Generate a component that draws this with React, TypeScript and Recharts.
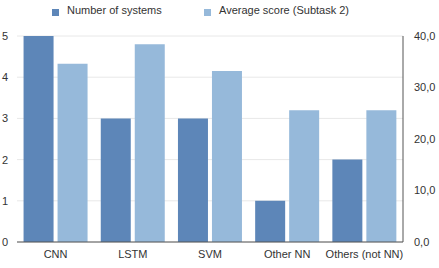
import React from 'react';
import { BarChart, Bar, XAxis, YAxis, CartesianGrid } from 'recharts';

const categories = ['CNN', 'LSTM', 'SVM', 'Other NN', 'Others (not NN)'];
const numberOfSystems = [5, 3, 3, 1, 2];
const averageScore = [34.6, 38.4, 33.2, 25.6, 25.6];
const leftTicks = [0, 1, 2, 3, 4, 5];
const rightTicks = [0, 10, 20, 30, 40];

const DARK = '#5d86b8';
const LIGHT = '#96b9da';
const FONT = '"Liberation Sans", Arial, sans-serif';

const data = categories.map((c, i) => ({
  name: c,
  systems: numberOfSystems[i],
  score: averageScore[i],
}));

export default function App() {
  return (
    <div style={{ position: 'absolute', left: 0, top: 0, width: 439, height: 268, fontFamily: FONT, background: '#fff' }}>
      <div style={{ position: 'absolute', top: 3, left: 0, width: 439, height: 18, fontSize: 11, color: '#333' }}>
        <span style={{ position: 'absolute', left: 52, top: 6, width: 7, height: 7, background: DARK }} />
        <span style={{ position: 'absolute', left: 67, top: 1 }}>Number of systems</span>
        <span style={{ position: 'absolute', left: 204, top: 6, width: 7, height: 7, background: LIGHT }} />
        <span style={{ position: 'absolute', left: 219, top: 1 }}>Average score (Subtask 2)</span>
      </div>
      <BarChart
        width={439}
        height={268}
        data={data}
        margin={{ top: 36, right: 0, left: 0, bottom: 0 }}
        barCategoryGap="8.5%"
        barGap={4}
      >
        <CartesianGrid horizontal vertical={false} stroke="#e8e8e8" yAxisId="left" />
        <XAxis
          dataKey="name"
          height={26}
          axisLine={{ stroke: '#555' }}
          tickLine={false}
          tickSize={0}
          tickMargin={8}
          tick={{ fontSize: 11, fill: '#333', fontFamily: FONT }}
          interval={0}
        />
        <YAxis
          yAxisId="left"
          orientation="left"
          width={17}
          domain={[0, 5]}
          ticks={leftTicks}
          axisLine={false}
          tickLine={false}
          tickSize={0}
          tickMargin={9}
          tick={{ fontSize: 11, fill: '#333', fontFamily: FONT }}
        />
        <YAxis
          yAxisId="right"
          orientation="right"
          width={36}
          domain={[0, 40]}
          ticks={rightTicks}
          axisLine={{ stroke: '#555' }}
          tickLine={false}
          tickSize={0}
          tickMargin={11}
          tickFormatter={(v: number) => v.toFixed(1).replace('.', ',')}
          tick={{ fontSize: 11, fill: '#333', fontFamily: FONT }}
        />
        <Bar yAxisId="left" dataKey="systems" fill={DARK} isAnimationActive={false} />
        <Bar yAxisId="right" dataKey="score" fill={LIGHT} isAnimationActive={false} />
      </BarChart>
    </div>
  );
}
